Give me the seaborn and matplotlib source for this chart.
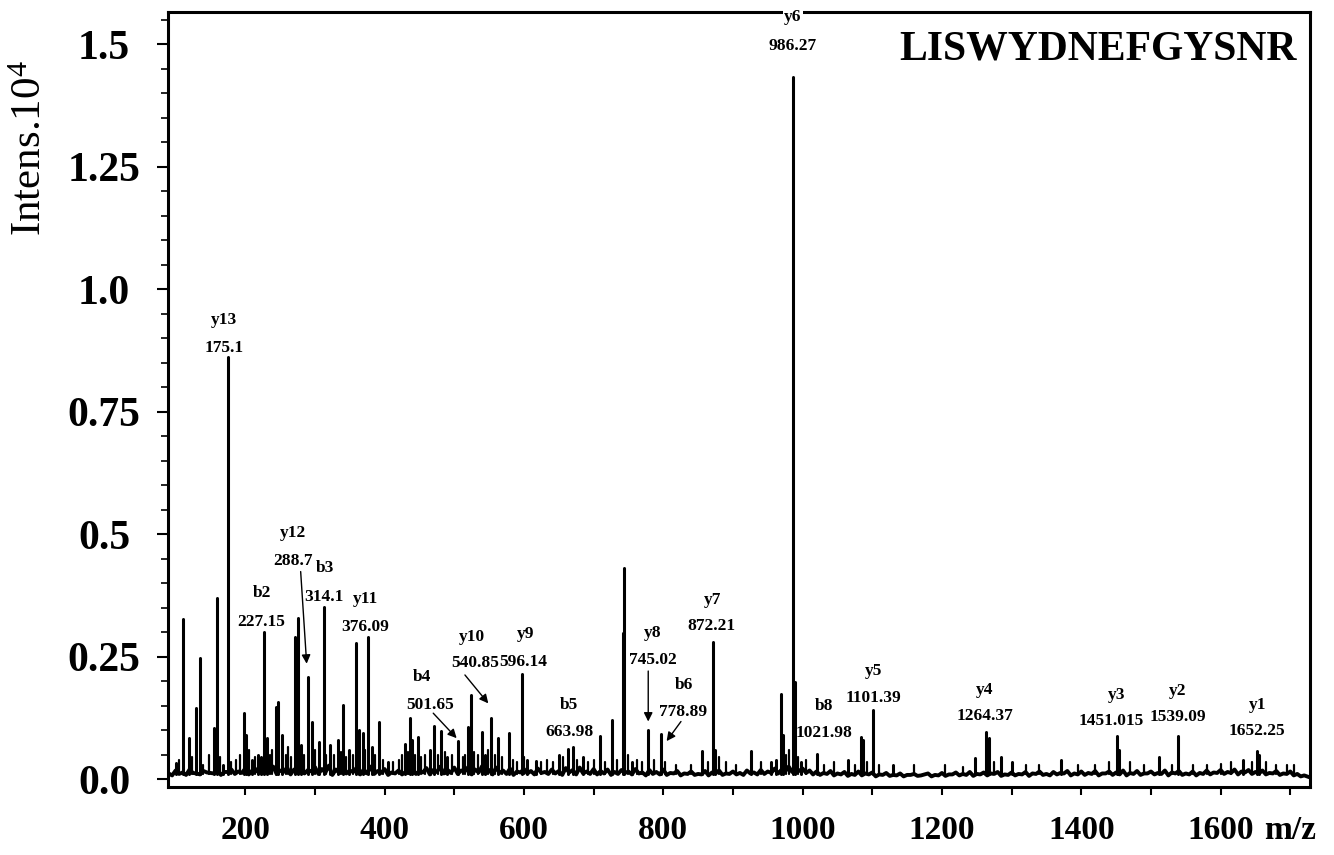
import numpy as np
import pandas as pd
import matplotlib
matplotlib.use("Agg")
import matplotlib.pyplot as plt
import seaborn as sns

# ---------------- data ----------------
peptide = "LISWYDNEFGYSNR"

peak_mz = [100.0, 110.9, 119.3, 129.2, 134.9, 155.4, 158.9, 168.4, 175.1, 198.1,
           200.9, 210.0, 218.6, 222.0, 226.3, 230.6, 243.6, 246.4, 253.0, 271.3,
           275.1, 280.2, 290.4, 296.1, 306.2, 312.9, 321.5, 333.4, 340.6, 349.2,
           358.8, 363.6, 368.5, 376.5, 381.4, 392.3, 405.0, 429.2, 436.4, 439.7,
           447.9, 465.0, 471.5, 480.9, 490.0, 505.7, 520.1, 523.5, 539.3, 544.0,
           552.6, 563.1, 578.9, 596.7, 605.0, 617.0, 650.7, 663.6, 670.8, 685.0,
           709.1, 726.8, 741.7, 744.0, 755.0, 778.5, 796.7, 855.1, 871.8, 874.5,
           925.4, 955.0, 962.0, 968.5, 971.3, 986.3, 989.0, 998.0, 1020.2, 1065.6,
           1083.3, 1086.2, 1101.4, 1130.0, 1247.4, 1263.2, 1267.0, 1285.4, 1300.0, 1370.4,
           1450.8, 1454.5, 1511.6, 1538.4, 1632.6, 1652.6, 1655.5]
peak_int = [0.034, 0.327, 0.085, 0.145, 0.247, 0.105, 0.371, 0.030, 0.862, 0.135,
            0.090, 0.040, 0.050, 0.045, 0.301, 0.085, 0.148, 0.158, 0.090, 0.291,
            0.329, 0.070, 0.209, 0.118, 0.077, 0.351, 0.070, 0.080, 0.152, 0.060,
            0.279, 0.100, 0.095, 0.290, 0.065, 0.116, 0.035, 0.073, 0.125, 0.080,
            0.087, 0.060, 0.108, 0.099, 0.045, 0.078, 0.107, 0.173, 0.097, 0.050,
            0.126, 0.084, 0.094, 0.214, 0.040, 0.038, 0.050, 0.061, 0.065, 0.045,
            0.088, 0.121, 0.298, 0.431, 0.035, 0.101, 0.092, 0.058, 0.281, 0.060,
            0.058, 0.035, 0.040, 0.175, 0.090, 1.434, 0.199, 0.035, 0.052, 0.040,
            0.087, 0.080, 0.141, 0.030, 0.043, 0.097, 0.085, 0.045, 0.035, 0.040,
            0.088, 0.060, 0.045, 0.089, 0.040, 0.058, 0.050]

# small "grass" peaks of the noise floor
minor_mz = [105, 124, 140, 148, 163, 180, 186, 192, 205, 214, 235, 238, 258, 262,
            266, 285, 300, 316, 327, 337, 345, 354, 372, 386, 398, 412, 420, 425,
            433, 444, 452, 458, 476, 486, 497, 512, 516, 528, 534, 548, 558, 569,
            585, 590, 600, 624, 633, 642, 656, 676, 692, 700, 716, 733, 750, 762,
            770, 786, 803, 818, 840, 864, 880, 890, 905, 940, 976, 981, 993, 1005,
            1030, 1045, 1075, 1092, 1110, 1160, 1205, 1230, 1275, 1320, 1340, 1395,
            1420, 1440, 1470, 1490, 1530, 1560, 1580, 1600, 1615, 1645, 1665, 1680,
            1695, 1705]
minor_int = [0.040, 0.045, 0.030, 0.050, 0.045, 0.035, 0.040, 0.050, 0.060, 0.045,
             0.050, 0.060, 0.050, 0.065, 0.045, 0.050, 0.060, 0.050, 0.050, 0.055,
             0.045, 0.050, 0.060, 0.050, 0.040, 0.035, 0.040, 0.050, 0.055, 0.050,
             0.045, 0.050, 0.050, 0.055, 0.050, 0.045, 0.050, 0.055, 0.050, 0.060,
             0.050, 0.045, 0.040, 0.035, 0.045, 0.035, 0.040, 0.035, 0.045, 0.040,
             0.035, 0.040, 0.035, 0.040, 0.050, 0.040, 0.035, 0.040, 0.035, 0.030,
             0.030, 0.035, 0.045, 0.035, 0.030, 0.035, 0.050, 0.060, 0.045, 0.040,
             0.030, 0.035, 0.030, 0.035, 0.030, 0.030, 0.030, 0.025, 0.035, 0.030,
             0.030, 0.030, 0.030, 0.035, 0.035, 0.030, 0.030, 0.030, 0.030, 0.032,
             0.035, 0.035, 0.035, 0.030, 0.030, 0.030]

baseline_mz = list(np.arange(90, 1721, 10)) + [1728]
baseline_int = [0.012, 0.018, 0.014, 0.020, 0.012, 0.017, 0.013, 0.019, 0.015, 0.020,
                0.016, 0.022, 0.018, 0.025, 0.020, 0.026, 0.018, 0.024, 0.020, 0.027,
                0.019, 0.025, 0.021, 0.028, 0.020, 0.026, 0.018, 0.024, 0.020, 0.026,
                0.017, 0.021, 0.014, 0.018, 0.015, 0.020, 0.017, 0.023, 0.019, 0.026,
                0.020, 0.024, 0.018, 0.025, 0.020, 0.027, 0.019, 0.024, 0.018, 0.022,
                0.016, 0.021, 0.017, 0.022, 0.015, 0.020, 0.017, 0.023, 0.019, 0.024,
                0.016, 0.021, 0.017, 0.020, 0.015, 0.019, 0.016, 0.021, 0.014, 0.019,
                0.015, 0.020, 0.013, 0.017, 0.012, 0.016, 0.011, 0.017, 0.014, 0.018,
                0.012, 0.016, 0.013, 0.018, 0.014, 0.019, 0.016, 0.022, 0.020, 0.026,
                0.024, 0.022, 0.018, 0.016, 0.013, 0.017, 0.012, 0.015, 0.011, 0.016,
                0.012, 0.014, 0.010, 0.013, 0.009, 0.012, 0.009, 0.011, 0.008, 0.012,
                0.009, 0.013, 0.010, 0.014, 0.011, 0.015, 0.011, 0.014, 0.012, 0.015,
                0.010, 0.014, 0.011, 0.015, 0.012, 0.016, 0.011, 0.015, 0.013, 0.017,
                0.012, 0.016, 0.013, 0.017, 0.012, 0.016, 0.014, 0.018, 0.013, 0.017,
                0.012, 0.016, 0.013, 0.018, 0.014, 0.017, 0.012, 0.016, 0.013, 0.018,
                0.014, 0.019, 0.015, 0.020, 0.016, 0.019, 0.015, 0.018, 0.013, 0.017,
                0.012, 0.016, 0.011, 0.008, 0.004]
# noise floor between the points above (at 95, 105, ..., 1715)
baseline_mid_mz = list(np.arange(95, 1716, 10))
baseline_mid_int = [0.008, 0.011, 0.009, 0.013, 0.010, 0.014, 0.012, 0.009, 0.015, 0.011,
                    0.013, 0.010, 0.016, 0.012, 0.014, 0.011, 0.015, 0.010, 0.013, 0.012,
                    0.016, 0.011, 0.014, 0.009, 0.013, 0.012, 0.015, 0.010, 0.012, 0.011,
                    0.013,
                    0.009, 0.012, 0.010, 0.013, 0.011, 0.014, 0.010, 0.015, 0.012, 0.013,
                    0.011, 0.016, 0.010, 0.014, 0.012, 0.010, 0.013, 0.011, 0.009, 0.014,
                    0.012, 0.010, 0.013, 0.011, 0.012, 0.009, 0.014, 0.010, 0.012, 0.011,
                    0.010, 0.012, 0.009, 0.011, 0.013, 0.010, 0.012, 0.008, 0.011, 0.010,
                    0.009, 0.012, 0.008, 0.011, 0.009, 0.010, 0.008, 0.012, 0.009, 0.011,
                    0.010, 0.009, 0.012, 0.010, 0.011, 0.013, 0.012, 0.016, 0.015, 0.017,
                    0.013, 0.010, 0.009, 0.011, 0.008, 0.010, 0.007, 0.009, 0.008, 0.010,
                    0.006, 0.009, 0.007, 0.008, 0.006, 0.009, 0.007, 0.010, 0.006, 0.008,
                    0.007, 0.010, 0.008, 0.009, 0.007, 0.010, 0.008, 0.011, 0.007, 0.009,
                    0.008, 0.010, 0.007, 0.011, 0.009, 0.008, 0.010, 0.012, 0.008, 0.010,
                    0.009, 0.011, 0.008, 0.012, 0.009, 0.010, 0.008, 0.011, 0.009, 0.012,
                    0.010, 0.011, 0.008, 0.012, 0.009, 0.010, 0.008, 0.011, 0.010, 0.013,
                    0.011, 0.013, 0.010, 0.014, 0.011, 0.012, 0.010, 0.012, 0.009, 0.011,
                    0.008, 0.006]

ion_names = ["y13", "b2", "y12", "b3", "y11", "b4", "y10", "y9", "b5", "y8",
             "b6", "y7", "y6", "b8", "y5", "y4", "y3", "y2", "y1"]
ion_values = ["175.1", "227.15", "288.7", "314.1", "376.09", "501.65", "540.85",
              "596.14", "663.98", "745.02", "778.89", "872.21", "986.27", "1021.98",
              "1101.39", "1264.37", "1451.015", "1539.09", "1652.25"]

y_tick_vals = [0.0, 0.25, 0.5, 0.75, 1.0, 1.25, 1.5]
y_tick_text = ["0.0", "0.25", "0.5", "0.75", "1.0", "1.25", "1.5"]
x_tick_vals = [200, 300, 400, 500, 600, 700, 800, 900, 1000, 1100, 1200, 1300,
               1400, 1500, 1600, 1700]
x_tick_text = ["200", "", "400", "", "600", "", "800", "", "1000", "", "1200", "",
               "1400", "", "1600", "m/z"]

# ---------------- layout (label placement, data coords) ----------------
name_pos = [(170.1, 0.937), (223.5, 0.380), (268.0, 0.502), (314.3, 0.431),
            (372.8, 0.368), (453.2, 0.209), (524.9, 0.290), (602.9, 0.296),
            (665.0, 0.152), (784.7, 0.298), (830.1, 0.192), (871.3, 0.366),
            (986.2, 1.556), (1030.7, 0.150), (1101.4, 0.221), (1261.8, 0.182),
            (1450.8, 0.172), (1538.4, 0.181), (1652.6, 0.152)]
value_pos = [(170.1, 0.881), (223.5, 0.322), (268.0, 0.4455), (313.3, 0.373),
             (372.8, 0.311), (465.1, 0.152), (529.7, 0.238), (599.0, 0.240),
             (665.0, 0.097), (784.7, 0.243), (828.7, 0.137), (868.5, 0.313),
             (986.2, 1.497), (1030.7, 0.095), (1101.4, 0.167), (1261.8, 0.130),
             (1442.6, 0.119), (1538.4, 0.127), (1652.6, 0.099)]
arrows = [((279.5, 0.424), (288.1, 0.236)),
          ((469.8, 0.135), (503.4, 0.084)),
          ((515.3, 0.213), (548.8, 0.155)),
          ((778.4, 0.221), (778.4, 0.118)),
          ((825.4, 0.118), (804.8, 0.078))]

# ---------------- style ----------------
sns.set_theme(style="ticks")
plt.rcParams["font.family"] = ["Liberation Serif", "DejaVu Serif"]
plt.rcParams["mathtext.fontset"] = "custom"
plt.rcParams["mathtext.rm"] = "Liberation Serif"
plt.rcParams["mathtext.it"] = "Liberation Serif"
plt.rcParams["mathtext.bf"] = "Liberation Serif:bold"

fig = plt.figure(figsize=(13.34, 8.55), dpi=100)
ax = fig.add_axes([0.1259, 0.0795, 0.982 - 0.1259, 0.986 - 0.0795])

# baseline (noise floor) trace
base_df = pd.DataFrame({"mz": baseline_mz + baseline_mid_mz,
                        "intensity": baseline_int + baseline_mid_int})
sns.lineplot(data=base_df, x="mz", y="intensity", ax=ax, color="black", lw=2.8,
             estimator=None)


def sticks(mz, inten, base=0.010):
    n = len(mz)
    return pd.DataFrame({
        "mz": np.repeat(mz, 2),
        "intensity": np.ravel(np.column_stack([np.full(n, base), inten])),
        "peak": np.repeat(np.arange(n), 2),
    })


sns.lineplot(data=sticks(minor_mz, minor_int), x="mz", y="intensity", units="peak",
             estimator=None, color="black", lw=1.6, ax=ax, legend=False)
sns.lineplot(data=sticks(peak_mz, peak_int), x="mz", y="intensity", units="peak",
             estimator=None, color="black", lw=2.2, ax=ax, legend=False)

ax.set_xlim(89, 1728.3)
ax.set_ylim(-0.0157, 1.566)

ax.set_yticks(y_tick_vals)
ax.set_yticklabels(y_tick_text, fontsize=30, fontweight="bold")
ax.set_yticks(np.arange(0, 1.56, 0.05), minor=True)
ax.set_xticks(x_tick_vals)
ax.set_xticklabels(x_tick_text, fontsize=24, fontweight="bold")
for lab in ax.get_yticklabels():
    lab.set_horizontalalignment("center")

ax.tick_params(axis="y", which="major", direction="out", length=8, width=1.5,
               pad=38, colors="black")
ax.tick_params(axis="y", which="minor", direction="out", length=5, width=1.2,
               colors="black")
ax.tick_params(axis="x", which="major", direction="out", length=6, width=1.5,
               pad=14, colors="black")
ax.set_xlabel("")
ax.set_ylabel("")

for sp in ax.spines.values():
    sp.set_visible(True)
    sp.set_linewidth(2.2)
    sp.set_color("black")

ax.text(-0.120, 0.8245, "Intens.10$^{4}$", transform=ax.transAxes, rotation=90,
        ha="center", va="center", fontsize=31, color="black")
ax.text(0.9886, 0.951, peptide, transform=ax.transAxes, ha="right", va="center",
        fontsize=30, fontweight="bold", color="black")

for name, val, npos, vpos in zip(ion_names, ion_values, name_pos, value_pos):
    box = dict(facecolor="white", edgecolor="none", pad=1.0) if name == "y6" else None
    ax.text(npos[0], npos[1], name, ha="center", va="center", fontsize=12.5,
            fontweight="bold", color="black", clip_on=False, bbox=box, zorder=5)
    ax.text(vpos[0], vpos[1], val, ha="center", va="center", fontsize=12.5,
            fontweight="bold", color="black", clip_on=False, zorder=5)

for start, end in arrows:
    ax.annotate("", xy=end, xytext=start,
                arrowprops=dict(arrowstyle="-|>", color="black", lw=1.0,
                                mutation_scale=13, shrinkA=0, shrinkB=0))

fig.savefig("out.png", dpi=100, facecolor="white")
